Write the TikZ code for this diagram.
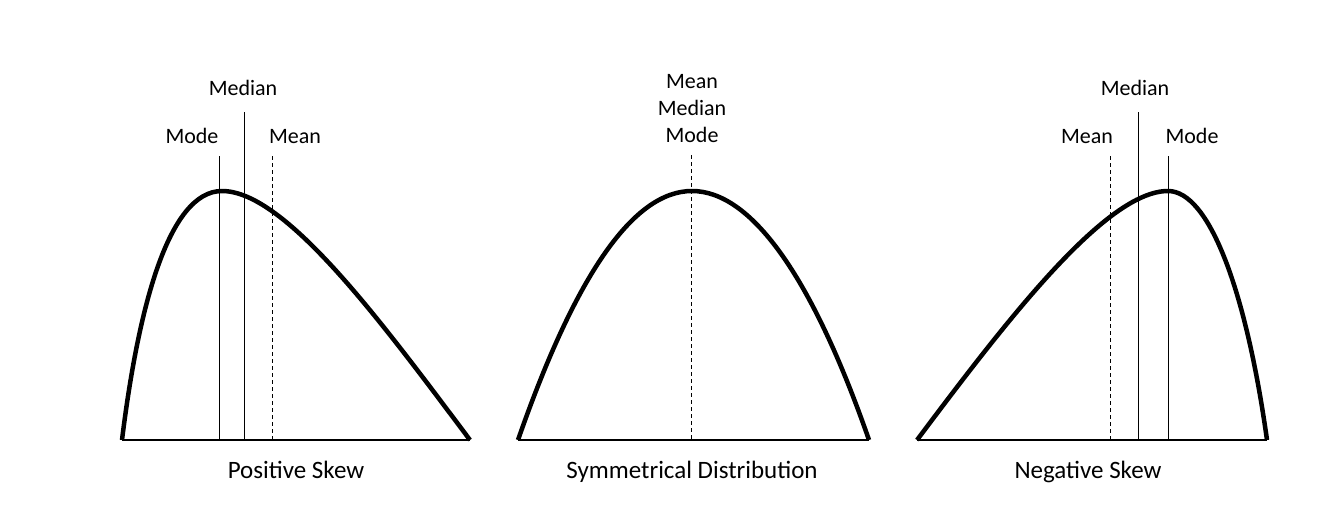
\documentclass[tikz,border=0pt]{standalone}
\usepackage{fontspec}
\setmainfont{Carlito}
\begin{document}
\begin{tikzpicture}[x=1pt,y=-1pt,
  curve/.style={line width=4.5pt,line join=round},
  base/.style={line width=1.6pt},
  vline/.style={line width=1pt},
  vdash/.style={line width=1pt,dash pattern=on 4pt off 3pt},
  toplab/.style={font=\fontsize{22}{26.5}\selectfont,inner sep=0pt,anchor=base},
  botlab/.style={font=\fontsize{25}{30}\selectfont,inner sep=0pt,anchor=base}]
\useasboundingbox (0,0) rectangle (1318,528);
% panel 1
\coordinate (a0) at (122,440); \coordinate (a1) at (470,440);
\coordinate (amo) at (219,156); \coordinate (amob) at (219,440);
\coordinate (ame) at (244,112); \coordinate (ameb) at (244,440);
\coordinate (amn) at (272,156); \coordinate (amnb) at (272,440);
\draw[base] (a0) -- (a1);
\draw[vline] (amo) -- (amob);
\draw[vline] (ame) -- (ameb);
\draw[vdash] (amn) -- (amnb);
\draw[curve] (a0) .. controls (138,310) and (168,191) .. (222,191) .. controls (285,191) and (380,320) .. (a1);
\node[toplab] (amolab) at (192,143) {Mode};
\node[toplab] (amelab) at (243,95) {Median};
\node[toplab] (amnlab) at (295,143) {Mean};
\node[botlab] (alab) at (296,478) {Positive Skew};
% panel 2
\coordinate (b0) at (518,440); \coordinate (b1) at (869,440);
\coordinate (bt) at (691,155); \coordinate (bb) at (691,440);
\draw[base] (b0) -- (b1);
\draw[vdash] (bt) -- (bb);
\draw[curve] (b0) .. controls (576,273.3) and (634,191) .. (692,191) .. controls (750,191) and (811,273.3) .. (b1);
\node[toplab] (bmean) at (692,88) {Mean};
\node[toplab] (bmedian) at (692,115) {Median};
\node[toplab] (bmode) at (692,142) {Mode};
\node[botlab] (blab) at (692,478) {Symmetrical Distribution};
% panel 3
\coordinate (c0) at (917,440); \coordinate (c1) at (1267,440);
\coordinate (cmn) at (1110,156); \coordinate (cmnb) at (1110,440);
\coordinate (cme) at (1138,112); \coordinate (cmeb) at (1138,440);
\coordinate (cmo) at (1168,156); \coordinate (cmob) at (1168,440);
\draw[base] (c0) -- (c1);
\draw[vdash] (cmn) -- (cmnb);
\draw[vline] (cme) -- (cmeb);
\draw[vline] (cmo) -- (cmob);
\draw[curve] (c0) .. controls (1007,320) and (1106,191) .. (1168,191) .. controls (1209,191) and (1246,290) .. (c1);
\node[toplab] (cmnlab) at (1087,143) {Mean};
\node[toplab] (cmelab) at (1135,95) {Median};
\node[toplab] (cmolab) at (1192,143) {Mode};
\node[botlab] (clab) at (1088,478) {Negative Skew};
\end{tikzpicture}
\end{document}
